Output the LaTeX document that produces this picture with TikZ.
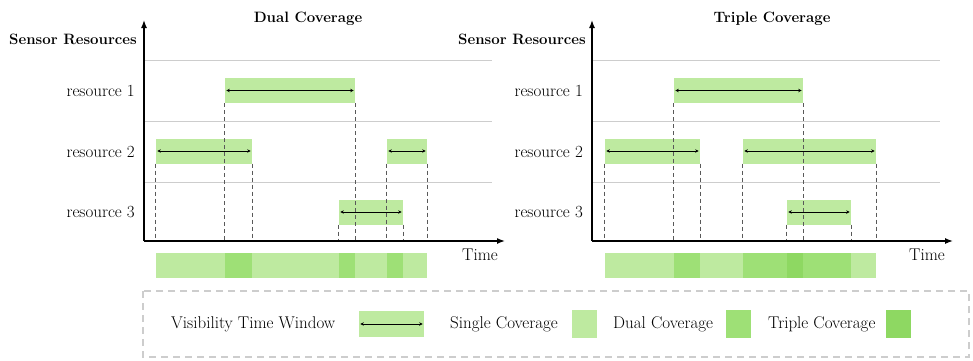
\documentclass[tikz,border=0pt]{standalone}
\usetikzlibrary{arrows.meta}
\definecolor{single}{RGB}{190,234,160}
\definecolor{dual}{RGB}{158,224,118}
\definecolor{triple}{RGB}{142,216,98}
\definecolor{lanegray}{RGB}{205,205,205}
\tikzset{
  win/.style={fill=single, inner sep=0pt, minimum height=25pt},
  span/.style={{Stealth[length=3.5pt,width=3.5pt]}-{Stealth[length=3.5pt,width=3.5pt]}, line width=0.5pt, shorten <=1.5pt, shorten >=1.5pt},
  drop/.style={dash pattern=on 4pt off 3pt, black!65, line width=0.7pt},
  axis/.style={-{Latex[length=8pt,width=6pt]}, line width=1.4pt},
  lane/.style={lanegray, line width=1pt},
  lbl/.style={font=\fontsize{17}{20}\selectfont, inner sep=0pt},
  ttl/.style={font=\fontsize{15}{18}\selectfont\bfseries, inner sep=0pt},
  swatch/.style={inner sep=0pt, minimum width=25pt, minimum height=28pt},
}
% one visibility window: name, start, end, row centre
\newcommand{\window}[4]{%
  \node[win, minimum width={#3-#2}] (#1) at ({(#2+#3)/2},#4) {};
  \draw[span] (#1.west) -- (#1.east);}
\begin{document}
\begin{tikzpicture}[x=1pt,y=-1pt]
\useasboundingbox (0,0) rectangle (973,360);

% ---------- left panel: dual coverage ----------
\coordinate (lo) at (144,241);
\coordinate (ltop) at (144,20);
\coordinate (lend) at (505,241);
\foreach \y in {60,121,182} \draw[lane] (144,\y) -- (492,\y);
\node[ttl] (ltitle) at (308,19) {Dual Coverage};
\node[ttl] (lsr) at (73,39) {Sensor Resources};
\node[lbl, anchor=east] (lr1) at (135,91) {resource 1};
\node[lbl, anchor=east] (lr2) at (135,152) {resource 2};
\node[lbl, anchor=east] (lr3) at (135,212) {resource 3};
\node[lbl] (ltime) at (480,255) {Time};

\window{la}{225}{355}{90.5}
\window{lb}{156}{252}{151}
\window{lc}{387}{427}{151}
\window{ld}{339}{403}{212}

\foreach \n in {la,lb,lc,ld} {
  \draw[drop] (\n.south west) -- (\n.south west |- lo);
  \draw[drop] (\n.south east) -- (\n.south east |- lo);
}
\draw[axis] (lo) -- (ltop);
\draw[axis] (lo) -- (lend);

% coverage strip
\coordinate (ls) at (0,253);
\coordinate (lt) at (0,278);
\fill[single] (lb.west |- ls) rectangle (lc.east |- lt);
\fill[dual] (la.west |- ls) rectangle (lb.east |- lt);
\fill[dual] (ld.west |- ls) rectangle (la.east |- lt);
\fill[dual] (lc.west |- ls) rectangle (ld.east |- lt);

% ---------- right panel: triple coverage ----------
\coordinate (ro) at (592,241);
\coordinate (rtop) at (592,20);
\coordinate (rend) at (953,241);
\foreach \y in {60,121,182} \draw[lane] (592,\y) -- (940,\y);
\node[ttl] (rtitle) at (772,19) {Triple Coverage};
\node[ttl] (rsr) at (522,39) {Sensor Resources};
\node[lbl, anchor=east] (rr1) at (583,91) {resource 1};
\node[lbl, anchor=east] (rr2) at (583,152) {resource 2};
\node[lbl, anchor=east] (rr3) at (583,212) {resource 3};
\node[lbl] (rtime) at (927,255) {Time};

\window{ra}{674}{803}{90.5}
\window{rb}{605}{700}{151}
\window{rc}{743}{876}{151}
\window{rd}{787}{851}{212}

\foreach \n in {ra,rb,rc,rd} {
  \draw[drop] (\n.south west) -- (\n.south west |- ro);
  \draw[drop] (\n.south east) -- (\n.south east |- ro);
}
\draw[axis] (ro) -- (rtop);
\draw[axis] (ro) -- (rend);

% coverage strip
\fill[single] (rb.west |- ls) rectangle (rc.east |- lt);
\fill[dual] (ra.west |- ls) rectangle (rb.east |- lt);
\fill[dual] (rc.west |- ls) rectangle (rd.east |- lt);
\fill[triple] (rd.west |- ls) rectangle (ra.east |- lt);

% ---------- legend ----------
\draw[lanegray, line width=1.2pt, dash pattern=on 7pt off 5pt] (143,291) rectangle (969,357);
\node[lbl, anchor=west] (kvis) at (171,324) {Visibility Time Window};
\node[win, minimum width=65pt, minimum height=26pt] (kwin) at (391.5,324) {};
\draw[span] (kwin.west) -- (kwin.east);
\node[lbl, anchor=west] (ksingle) at (450,324) {Single Coverage};
\node[swatch, fill=single] (ks) at (584.5,324) {};
\node[lbl, anchor=west] (kdual) at (613,324) {Dual Coverage};
\node[swatch, fill=dual] (kd) at (738,324) {};
\node[lbl, anchor=west] (ktriple) at (768,324) {Triple Coverage};
\node[swatch, fill=triple] (kt) at (898.5,324) {};
\end{tikzpicture}
\end{document}
